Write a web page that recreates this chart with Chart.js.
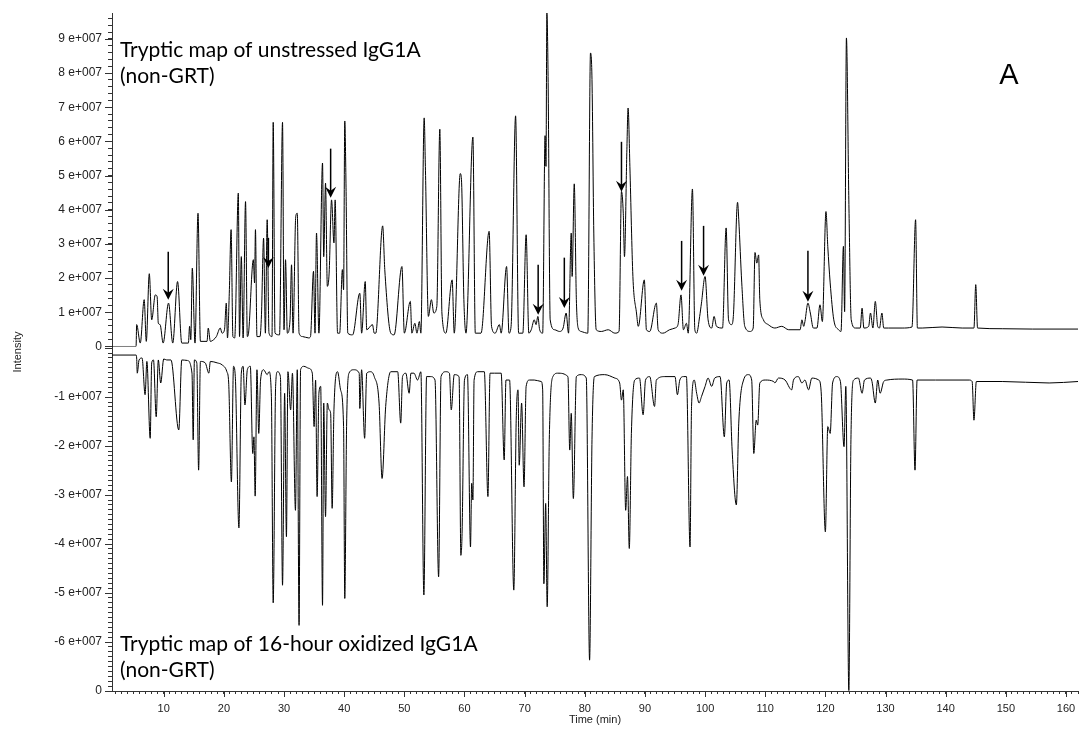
<!DOCTYPE html>
<html>
<head>
<meta charset="utf-8">
<script src="https://cdn.jsdelivr.net/npm/chart.js@4.4.1/dist/chart.umd.min.js"></script>
<style>
  html, body { margin: 0; padding: 0; background: #fff; }
  #wrap { width: 1079px; height: 730px; position: relative; }
</style>
</head>
<body>
<div id="wrap"><canvas id="tmap"></canvas></div>
<script>
// intensities are in units of 1e7 counts, time in minutes
const upperTime = [1.4,5.4,5.5,6.1,6.75,7.1,7.6,8.0,8.6,8.9,9.1,9.4,9.9,10.8,11.5,12.3,13.0,14.1,14.3,14.5,14.75,15.2,15.7,16.1,17.2,17.4,17.75,18.3,18.75,19.4,19.7,20.1,20.4,20.6,20.9,21.2,21.5,21.8,22.4,22.6,22.9,23.2,23.6,23.9,24.1,24.9,25.1,25.25,25.5,26.0,26.25,26.6,26.9,27.2,27.5,28.0,28.2,28.5,29.25,29.75,30.0,30.25,30.55,31.0,31.25,31.5,31.95,32.2,32.5,33.1,34.1,34.4,34.9,35.15,35.4,35.8,36.4,36.6,36.9,37.2,37.5,37.9,38.3,38.5,38.9,39.25,39.7,39.9,40.1,40.3,40.6,41.4,42.6,42.9,43.5,43.75,44.7,45.0,45.25,46.4,46.75,47.75,48.3,49.6,50.0,51.0,51.25,51.75,52.1,52.5,52.75,53.3,53.5,54.0,54.5,54.9,55.4,55.9,56.25,56.9,57.95,58.3,59.3,59.5,59.9,60.25,61.4,61.8,62.75,64.1,64.5,65.1,65.8,66.1,67.0,67.4,67.75,68.5,69.0,69.7,70.25,70.7,71.1,71.6,71.9,72.2,72.5,73.0,73.4,73.55,73.7,73.9,74.25,75.0,75.8,76.4,76.9,77.3,77.75,77.9,78.25,78.6,78.9,79.4,80.5,80.95,81.2,81.5,81.9,82.75,83.9,85.0,85.7,86.1,86.4,86.6,87.0,87.2,87.5,88.0,88.6,88.9,89.9,90.25,90.8,91.9,92.2,93.0,94.1,95.0,95.5,96.0,96.4,96.9,97.2,97.9,98.3,98.6,99.1,99.4,100.0,100.5,101.1,101.5,101.9,102.9,103.5,103.9,104.4,104.7,105.4,105.6,106.1,106.6,107.5,108.0,108.3,108.6,108.9,109.1,109.7,110.5,111.6,112.75,113.9,115.8,116.1,116.4,116.6,117.1,117.5,118.0,118.6,119.1,119.5,120.1,120.4,120.8,121.4,122.2,122.6,123.0,123.2,123.5,123.9,124.3,125.0,125.8,126.1,126.4,127.2,127.5,127.9,128.3,128.7,129.0,129.4,129.7,130.5,132.75,134.4,135.0,135.3,136.1,139.4,142.75,144.7,145.0,145.3,149.4,154.4,162];
const upperIntensity = [0,0,0.64,0.10,1.37,0.15,2.13,0.78,1.51,1.46,0.68,0.64,0.10,1.27,0.10,1.90,0.10,0.10,0.59,0.20,2.29,0.10,3.90,0.15,0.15,0.54,0.15,0.20,0.29,0.54,0.39,0.49,1.27,0.25,1.56,3.42,0.29,0.25,4.49,0.29,2.63,0.25,4.24,0.29,0.39,2.54,1.86,3.42,0.29,0.29,0.93,3.17,0.39,3.71,0.39,0.29,6.56,0.39,0.34,6.56,0.49,2.54,0.39,0.78,2.39,0.39,3.81,3.90,0.39,0.29,0.25,0.29,2.20,0.39,3.32,0.39,5.37,2.63,4.78,1.76,2.15,4.29,3.03,4.29,0.39,0.39,2.25,1.66,6.60,4.78,0.39,0.34,1.56,0.39,1.90,0.49,0.64,0.39,0.39,3.53,2.25,0.39,0.34,2.34,0.39,1.32,0.39,0.68,0.39,0.73,0.39,6.69,5.27,0.88,1.37,0.98,1.17,6.36,0.98,0.39,1.95,0.39,5.06,4.88,1.37,0.39,6.13,0.39,0.39,3.37,0.59,0.39,0.64,0.39,2.34,0.39,0.59,6.75,0.39,0.39,3.27,0.39,0.49,0.78,0.64,0.88,0.49,0.39,6.17,5.27,9.76,7.90,0.78,0.49,0.44,0.54,0.98,0.39,3.32,2.05,4.76,1.37,0.54,0.44,0.39,8.59,7.81,3.32,0.49,0.44,0.49,0.39,0.44,4.54,3.90,2.63,5.76,6.98,5.27,2.05,0.98,0.59,1.95,0.49,0.44,1.27,0.49,0.39,0.49,0.54,0.64,1.51,0.49,0.68,0.39,4.61,0.49,0.39,0.88,1.27,2.05,0.78,0.54,0.88,0.59,0.54,3.47,0.78,0.64,0.88,4.22,3.71,1.86,0.59,0.44,0.54,2.75,2.44,2.68,1.37,0.78,0.64,0.54,0.59,0.49,0.49,0.78,0.59,0.73,1.27,0.98,0.54,0.54,1.22,0.73,3.95,2.93,1.86,0.78,0.49,0.44,2.93,1.02,9.03,4.29,0.78,0.54,0.54,1.12,0.54,0.59,0.98,0.54,1.32,0.59,0.54,0.98,0.54,0.54,0.54,0.57,3.71,0.54,0.54,0.57,0.54,0.54,1.81,0.54,0.52,0.51,0.51];

const lowerTime = [1.4,5.4,5.5,5.6,5.9,6.4,6.9,7.2,7.75,8.0,8.3,8.75,9.1,9.5,10.0,10.5,11.2,12.5,13.0,13.9,14.7,14.9,15.1,15.5,15.8,16.1,16.9,17.5,17.75,18.9,19.7,20.5,20.8,21.25,21.6,21.9,22.5,22.9,23.2,23.5,23.9,24.4,24.8,25.0,25.2,25.5,25.8,26.1,26.6,27.2,27.5,27.9,28.2,28.6,28.9,29.4,29.75,30.1,30.4,30.65,31.1,31.4,31.9,32.2,32.5,32.75,33.3,34.1,34.7,35.0,35.25,35.5,35.8,36.1,36.4,36.6,36.9,37.2,37.5,37.75,38.0,38.3,38.9,39.4,39.9,40.1,40.4,40.8,41.6,42.5,42.6,42.9,43.4,43.75,44.4,45.0,45.8,46.3,46.9,47.75,48.9,49.4,49.7,50.25,50.8,51.1,51.6,52.2,52.75,53.25,53.7,54.4,55.1,55.7,56.1,56.9,57.5,57.8,58.3,59.1,59.4,59.6,60.0,60.5,61.0,61.2,61.4,61.6,62.2,63.3,63.9,64.25,65.0,66.1,66.6,66.9,67.5,68.2,68.6,68.9,69.1,69.5,69.9,70.25,70.8,71.6,72.75,73.0,73.2,73.5,73.75,74.1,74.7,75.5,77.2,77.5,77.75,78.1,78.6,79.4,80.25,80.8,81.2,81.6,83.3,85.0,85.8,86.1,86.4,86.8,87.1,87.4,87.75,88.3,89.1,89.7,90.1,90.8,91.6,91.9,93.3,95.0,95.4,95.8,96.4,96.9,97.5,97.75,98.2,98.6,99.0,99.4,100.0,100.5,101.1,101.6,102.5,103.2,103.6,104.0,104.5,105.2,105.6,106.4,107.2,107.75,108.1,108.5,108.75,109.1,110.0,111.4,111.6,112.2,113.3,114.4,114.7,115.5,116.1,116.6,117.2,117.75,118.9,119.3,120.0,120.4,120.8,121.2,121.9,122.5,123.1,123.4,123.9,124.25,124.7,125.5,126.1,126.5,127.5,127.75,128.3,128.7,129.1,129.7,130.25,132.75,134.5,134.9,135.25,138.3,143.9,144.4,144.7,145.1,149.4,157.2,162];
const lowerIntensity = [-0.14,-0.14,-0.20,-0.51,-0.24,-0.20,-0.95,-0.27,-1.84,-0.30,-0.24,-1.40,-0.24,-0.71,-0.22,-0.24,-0.24,-1.67,-0.24,-0.25,-0.51,-1.87,-0.24,-0.30,-2.49,-0.27,-0.30,-0.51,-0.27,-0.30,-0.34,-0.48,-0.71,-2.73,-0.37,-0.58,-3.67,-0.51,-0.37,-1.16,-0.44,-0.37,-2.15,-1.81,-3.02,-0.44,-1.74,-0.65,-0.44,-0.54,-0.48,-0.99,-5.20,-0.78,-0.48,-0.58,-4.84,-0.92,-3.85,-0.48,-1.26,-0.51,-3.31,-0.44,-5.66,-0.44,-0.37,-0.41,-0.51,-1.60,-0.65,-3.03,-0.92,-0.78,-5.25,-1.12,-3.44,-1.12,-1.26,-1.33,-3.27,-1.26,-0.48,-0.85,-1.60,-5.11,-1.60,-0.51,-0.44,-0.51,-1.23,-0.44,-1.84,-0.51,-0.48,-0.58,-1.12,-2.66,-1.19,-0.48,-0.48,-1.53,-0.58,-0.51,-0.92,-0.51,-0.51,-0.65,-0.48,-5.04,-0.58,-0.58,-0.65,-4.67,-0.58,-0.48,-0.51,-1.26,-0.54,-0.58,-4.23,-3.78,-0.65,-0.54,-4.06,-2.76,-3.10,-0.65,-0.48,-0.48,-3.03,-0.51,-0.51,-0.51,-2.28,-0.65,-0.65,-4.94,-1.47,-0.85,-2.39,-1.12,-2.83,-0.78,-0.65,-0.65,-0.68,-0.85,-4.81,-3.17,-5.28,-1.87,-0.58,-0.51,-0.58,-2.08,-1.33,-3.07,-0.58,-0.54,-0.61,-6.37,-1.87,-0.58,-0.54,-0.61,-0.71,-1.06,-0.85,-3.31,-2.62,-4.09,-1.74,-0.65,-0.61,-1.36,-0.65,-0.58,-1.19,-0.65,-0.58,-0.58,-0.95,-0.65,-0.58,-0.58,-4.06,-1.19,-0.65,-0.92,-1.12,-0.99,-0.78,-0.61,-0.78,-0.61,-0.58,-1.81,-0.71,-0.65,-2.08,-3.20,-1.53,-0.65,-0.54,-0.65,-2.15,-1.47,-1.57,-0.71,-0.65,-0.68,-0.71,-0.61,-0.65,-0.85,-0.65,-0.58,-0.71,-0.65,-0.85,-0.61,-0.65,-0.89,-3.75,-1.60,-1.74,-0.71,-0.58,-0.68,-2.01,-0.78,-6.99,-1.87,-0.65,-0.61,-0.92,-0.65,-0.61,-0.68,-1.12,-0.65,-0.92,-0.68,-0.65,-0.63,-0.65,-2.49,-0.65,-0.65,-0.65,-0.68,-1.47,-0.68,-0.68,-0.71,-0.68];

// arrows marking peaks in the unstressed map: time, arrow top, arrow tip
const arrowTime = [10.75, 27.4, 37.75, 72.25, 76.6, 86.1, 96.1, 99.75, 117.1];
const arrowTop = [2.77, 3.18, 5.79, 2.39, 2.60, 5.99, 3.09, 3.53, 2.80];
const arrowTip = [1.37, 2.30, 4.35, 0.93, 1.13, 4.53, 1.63, 2.07, 1.31];

const upperTickLabels = ['0', '1 e+007', '2 e+007', '3 e+007', '4 e+007', '5 e+007', '6 e+007', '7 e+007', '8 e+007', '9 e+007'];
const lowerTickLabels = ['', '-1 e+007', '-2 e+007', '-3 e+007', '-4 e+007', '-5 e+007', '-6 e+007', '0'];

const topTitle = ['Tryptic map of unstressed IgG1A', '(non-GRT)'];
const bottomTitle = ['Tryptic map of 16-hour oxidized IgG1A', '(non-GRT)'];

const axisColor = '#333';
const labelFont = "'Liberation Sans', Arial, sans-serif";

function isWhole(v) { return Math.abs(v - Math.round(v)) < 1e-6; }

const majorTicks = {
    id: 'majorTicks',
    afterDraw(chart) {
        const ctx = chart.ctx;
        ctx.save();
        ctx.strokeStyle = axisColor;
        ctx.lineWidth = 1;
        ctx.beginPath();
        ['yUp', 'yLow'].forEach(id => {
            const s = chart.scales[id];
            s.ticks.forEach(t => {
                if (!isWhole(t.value)) return;
                const y = Math.round(s.getPixelForValue(t.value)) + 0.5;
                ctx.moveTo(s.right - 7, y);
                ctx.lineTo(s.right, y);
            });
        });
        const xs = chart.scales.x;
        xs.ticks.forEach(t => {
            if (Math.round(t.value) % 10 !== 0) return;
            const x = Math.round(xs.getPixelForValue(t.value)) + 0.5;
            ctx.moveTo(x, xs.top);
            ctx.lineTo(x, xs.top + 6);
        });
        ctx.stroke();

        // y axis title
        const area = chart.chartArea;
        ctx.fillStyle = '#222';
        ctx.font = '11px ' + labelFont;
        ctx.textAlign = 'center';
        ctx.textBaseline = 'middle';
        ctx.translate(18, (area.top + area.bottom) / 2);
        ctx.rotate(-Math.PI / 2);
        ctx.fillText('Intensity', 0, 0);
        ctx.restore();
    }
};

const annotations = {
    id: 'annotations',
    afterDatasetsDraw(chart) {
        const ctx = chart.ctx;
        const xs = chart.scales.x, ys = chart.scales.yUp;
        const area = chart.chartArea;
        ctx.save();
        ctx.fillStyle = '#000';
        ctx.strokeStyle = '#000';
        ctx.lineWidth = 1.5;
        arrowTime.forEach((t, i) => {
            const x = xs.getPixelForValue(t);
            const y0 = ys.getPixelForValue(arrowTop[i]);
            const y1 = ys.getPixelForValue(arrowTip[i]);
            ctx.beginPath();
            ctx.moveTo(x, y0);
            ctx.lineTo(x, y1 - 6);
            ctx.stroke();
            ctx.beginPath();
            ctx.moveTo(x, y1);
            ctx.lineTo(x - 5.5, y1 - 11);
            ctx.lineTo(x, y1 - 7);
            ctx.lineTo(x + 5.5, y1 - 11);
            ctx.closePath();
            ctx.fill();
        });

        ctx.font = "21px Lato, 'Open Sans', sans-serif";
        ctx.textAlign = 'left';
        ctx.textBaseline = 'alphabetic';
        ctx.fillText(topTitle[0], area.left + 8, 57);
        ctx.fillText(topTitle[1], area.left + 8, 83);
        ctx.fillText(bottomTitle[0], area.left + 8, 651);
        ctx.fillText(bottomTitle[1], area.left + 8, 677);

        ctx.font = '29px ' + labelFont;
        ctx.textAlign = 'center';
        ctx.fillText('A', 1009, 84);
        ctx.restore();
    }
};

const upperPoints = upperTime.map((t, i) => ({ x: t, y: upperIntensity[i] }));
const lowerPoints = lowerTime.map((t, i) => ({ x: t, y: lowerIntensity[i] }));

const upperTickValues = [];
for (let i = 0; i <= 48; i++) upperTickValues.push(i / 5);
const lowerTickValues = [];
for (let i = 0; i <= 70; i++) lowerTickValues.push(-i / 10);
const minuteTicks = [];
for (let m = 2; m <= 162; m++) minuteTicks.push(m);

const xFont = { family: labelFont, size: 11 };
const yFont = { family: labelFont, size: 12 };

function noEdgePadding(ax) {
    ax.paddingLeft = 0;
    ax.paddingRight = 0;
    ax.paddingTop = 0;
    ax.paddingBottom = 0;
}

new Chart(document.getElementById('tmap'), {
    type: 'scatter',
    data: {
        datasets: [{
            label: 'unstressed',
            data: upperPoints,
            yAxisID: 'yUp',
            showLine: true,
            borderColor: '#000',
            borderWidth: 1,
            pointRadius: 0,
            cubicInterpolationMode: 'monotone'
        }, {
            label: 'oxidized',
            data: lowerPoints,
            yAxisID: 'yLow',
            showLine: true,
            borderColor: '#000',
            borderWidth: 1,
            pointRadius: 0,
            cubicInterpolationMode: 'monotone'
        }]
    },
    options: {
        responsive: true,
        maintainAspectRatio: false,
        animation: false,
        devicePixelRatio: 1,
        layout: { padding: { left: 0, right: 1, top: 13, bottom: 0 } },
        plugins: {
            legend: { display: false },
            tooltip: { enabled: false }
        },
        scales: {
            x: {
                type: 'linear',
                position: 'bottom',
                min: 1.4,
                max: 162,
                afterBuildTicks: ax => { ax.ticks = minuteTicks.map(v => ({ value: v })); },
                afterFit: ax => { ax.height = 39; noEdgePadding(ax); },
                ticks: {
                    autoSkip: false,
                    maxRotation: 0,
                    padding: 8,
                    color: '#222',
                    font: xFont,
                    callback: v => (Math.round(v) % 10 === 0 ? String(v) : '')
                },
                grid: { drawOnChartArea: false, tickLength: 3, color: axisColor },
                border: { color: axisColor },
                title: {
                    display: true,
                    text: 'Time (min)',
                    color: '#222',
                    font: xFont,
                    padding: { top: 0, bottom: 3 }
                }
            },
            yLow: {
                type: 'linear',
                position: 'left',
                stack: 'intensity',
                stackWeight: 344,
                min: -7,
                max: 0.035,
                afterBuildTicks: ax => { ax.ticks = lowerTickValues.map(v => ({ value: v })); },
                afterFit: ax => { ax.width = 112; noEdgePadding(ax); },
                ticks: {
                    autoSkip: false,
                    padding: 6,
                    color: '#222',
                    font: yFont,
                    callback: v => (isWhole(v) ? lowerTickLabels[-Math.round(v)] : '')
                },
                grid: { drawOnChartArea: false, tickLength: 4, color: axisColor },
                border: { color: axisColor }
            },
            yUp: {
                type: 'linear',
                position: 'left',
                stack: 'intensity',
                stackWeight: 333,
                min: 0,
                max: 9.76,
                afterBuildTicks: ax => { ax.ticks = upperTickValues.map(v => ({ value: v })); },
                afterFit: ax => { ax.width = 112; noEdgePadding(ax); },
                ticks: {
                    autoSkip: false,
                    padding: 6,
                    color: '#222',
                    font: yFont,
                    callback: v => (isWhole(v) ? upperTickLabels[Math.round(v)] : '')
                },
                grid: { drawOnChartArea: false, tickLength: 4, color: axisColor },
                border: { color: axisColor }
            }
        }
    },
    plugins: [majorTicks, annotations]
});
</script>
</body>
</html>
